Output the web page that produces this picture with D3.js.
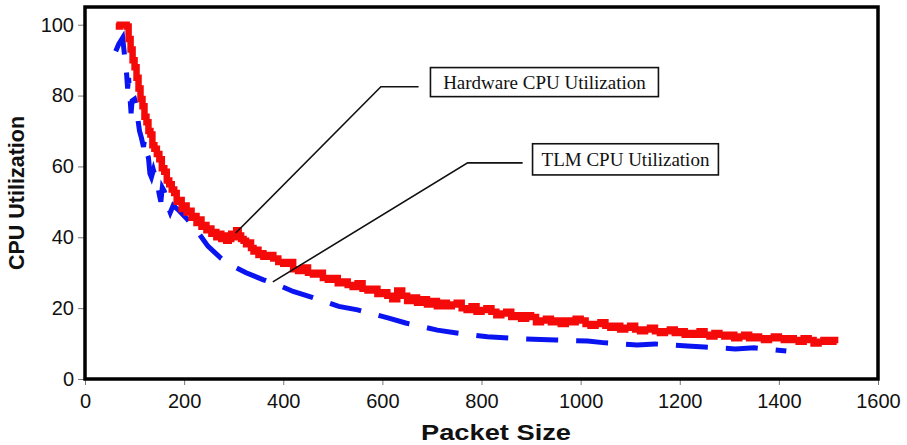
<!DOCTYPE html>
<html>
<head>
<meta charset="utf-8">
<script src="https://cdn.jsdelivr.net/npm/d3@7"></script>
<style>
    body { margin: 0; background: #fff; }
    svg { display: block; }
    .tick-label { font-family: "Liberation Sans", Arial, sans-serif; font-size: 20px; fill: #111; }
    .axis-title { font-family: "Liberation Sans", Arial, sans-serif; font-size: 21.5px; font-weight: bold; fill: #111; }
    .note { font-family: "Liberation Serif", "Times New Roman", serif; font-size: 19px; fill: #111; }
</style>
</head>
<body>
<div id="chart"></div>
<script>
var xTicks = [0, 200, 400, 600, 800, 1000, 1200, 1400, 1600];
var yTicks = [0, 20, 40, 60, 80, 100];

// hardware CPU utilization [packet size, %]
var hwCpu = [
    [62, 99.5], [70, 100], [78, 100], [84, 99.5], [88, 96], [92, 93], [96, 90], [100, 88],
    [104, 85], [108, 82], [112, 79], [116, 77], [120, 74], [124, 72.5], [128, 70], [132, 69],
    [136, 66], [140, 65], [145, 63.5], [150, 62], [155, 59.5], [160, 58.5], [165, 56], [170, 55],
    [175, 53.5], [180, 52.5], [185, 50], [190, 50.5], [195, 48], [200, 49], [205, 47], [210, 47.5],
    [215, 45.5], [220, 46], [225, 44], [230, 45], [235, 43], [240, 43.5], [245, 42], [250, 42.5],
    [255, 41], [260, 41.5], [265, 40], [270, 41], [275, 39.5], [280, 40.5], [285, 39], [290, 39.5],
    [295, 41], [300, 40], [305, 42], [310, 40.5], [315, 39.5], [320, 39], [325, 38], [330, 38.5],
    [335, 37], [340, 36], [345, 36.5], [350, 35], [355, 35.5], [360, 34.5], [370, 35], [380, 34],
    [390, 33], [400, 32.5], [410, 33], [420, 31], [430, 30.5], [440, 31.5], [450, 30], [460, 29.5],
    [470, 30], [480, 28.5], [490, 28], [500, 28.5], [510, 27], [520, 27.5], [530, 26.5], [540, 26],
    [550, 27], [560, 25.5], [570, 25], [580, 25.5], [590, 24], [600, 24.5], [610, 23.5], [620, 22.5],
    [630, 25], [640, 23.5], [650, 22], [660, 23], [670, 21.5], [680, 22.5], [690, 21], [700, 22],
    [710, 20.5], [720, 21.5], [730, 20.5], [740, 21], [750, 21.5], [760, 20], [770, 19.5], [780, 20.5],
    [790, 19], [800, 19.5], [810, 20], [820, 19], [830, 18], [840, 18.5], [850, 19], [860, 17.5],
    [870, 18], [880, 17], [890, 18], [900, 17.5], [910, 16], [920, 16.5], [930, 17], [940, 16],
    [950, 16.5], [960, 15.5], [970, 16.5], [980, 16], [990, 17], [1000, 16.5], [1010, 15.5], [1020, 15],
    [1030, 15.5], [1040, 16], [1050, 15], [1060, 14.5], [1070, 15], [1080, 14], [1090, 14.5], [1100, 15],
    [1110, 14], [1120, 13.5], [1130, 14], [1140, 14.5], [1150, 13.5], [1160, 13], [1170, 13.5], [1180, 14],
    [1190, 13], [1200, 13.5], [1210, 12.5], [1220, 13], [1230, 12.5], [1240, 13.5], [1250, 12.5], [1260, 12],
    [1270, 13], [1280, 12.5], [1290, 12], [1300, 12.5], [1310, 11.5], [1320, 12], [1330, 12.5], [1340, 11.5],
    [1350, 12], [1360, 11.5], [1370, 11], [1380, 11.5], [1390, 12], [1400, 11.5], [1410, 11], [1420, 11.5],
    [1430, 11], [1440, 10.5], [1450, 11.5], [1460, 11], [1470, 10], [1480, 10.5], [1490, 11], [1500, 10.5],
    [1510, 11], [1520, 11]
];

// TLM CPU utilization [packet size, %]
var tlmCpu = [
    [62, 92.5], [68, 94.5], [76, 96.3], [80, 91], [84, 86], [86, 82], [88, 85], [91, 79],
    [93, 75], [95, 78.5], [100, 79], [104, 77], [107, 73], [110, 70], [114, 68], [118, 65.5],
    [120, 67.5], [124, 64], [128, 62.5], [131, 58], [134, 57], [138, 59], [142, 57], [146, 55],
    [150, 52], [153, 50], [156, 54], [160, 53], [164, 51], [168, 48.5], [172, 47], [178, 49],
    [190, 47.5], [207, 45], [230, 41], [248, 37.5], [275, 34], [300, 31.8], [325, 30], [360, 28],
    [390, 26.5], [420, 24.7], [460, 23], [512, 20.5], [550, 19.5], [613, 17.2], [647, 15.8], [711, 13.8],
    [750, 13], [812, 11.9], [870, 11.4], [950, 11], [1014, 10.7], [1050, 10.2], [1114, 9.6], [1150, 9.9],
    [1215, 9.3], [1250, 9], [1312, 8.5], [1350, 8.8], [1415, 7.9]
];

// callouts: leader points and box corners in data units
var hwLeader = [[304, 41.2], [597, 82.5], [673, 82.5]];
var hwBox = [[697, 87.9], [1157, 79.7]];
var tlmLeader = [[379, 27.4], [772, 61], [883, 61]];
var tlmBox = [[903, 66.4], [1278, 57.6]];

var width = 907, height = 445;
var margin = {top: 7, right: 29, bottom: 66, left: 85};

var x = d3.scaleLinear().domain([0, 1600]).range([margin.left, width - margin.right]);
var y = d3.scaleLinear().domain([0, 105]).range([height - margin.bottom, margin.top]);

var svg = d3.select('#chart').append('svg')
    .attr('width', width)
    .attr('height', height);

var xAxis = svg.append('g')
    .attr('transform', 'translate(0,' + y(0) + ')')
    .call(d3.axisBottom(x).tickValues(xTicks).tickFormat(d3.format('d')).tickSize(6).tickPadding(9));
xAxis.select('.domain').remove();
xAxis.selectAll('line').attr('stroke', '#777');
xAxis.selectAll('text').attr('class', 'tick-label').attr('font-size', null).attr('font-family', null);

var yAxis = svg.append('g')
    .attr('transform', 'translate(' + x(0) + ',0)')
    .call(d3.axisLeft(y).tickValues(yTicks).tickFormat(d3.format('d')).tickSize(7).tickPadding(4));
yAxis.select('.domain').remove();
yAxis.selectAll('line').attr('stroke', '#777');
yAxis.selectAll('text').attr('class', 'tick-label').attr('font-size', null).attr('font-family', null);

svg.append('rect')
    .attr('x', x(0))
    .attr('y', y(105))
    .attr('width', x(1600) - x(0))
    .attr('height', y(0) - y(105))
    .attr('fill', 'none')
    .attr('stroke', '#000')
    .attr('stroke-width', 3.5);

svg.append('path')
    .datum(tlmCpu)
    .attr('fill', 'none')
    .attr('stroke', '#0a14f0')
    .attr('stroke-width', 5)
    .attr('stroke-dasharray', '32,18')
    .attr('d', d3.line().x(function(d){return x(d[0])}).y(function(d){return y(d[1])}));

svg.append('path')
    .datum(hwCpu)
    .attr('fill', 'none')
    .attr('stroke', '#f50a0a')
    .attr('stroke-width', 6.5)
    .attr('d', d3.line().curve(d3.curveStepAfter)
        .x(function(d){return x(d[0])}).y(function(d){return y(d[1])}));

function callout(leader, box, label){
    svg.append('path')
        .datum(leader)
        .attr('fill', 'none')
        .attr('stroke', '#111')
        .attr('stroke-width', 1.6)
        .attr('d', d3.line().x(function(d){return x(d[0])}).y(function(d){return y(d[1])}));
    svg.append('rect')
        .attr('x', x(box[0][0]))
        .attr('y', y(box[0][1]))
        .attr('width', x(box[1][0]) - x(box[0][0]))
        .attr('height', y(box[1][1]) - y(box[0][1]))
        .attr('fill', '#fff')
        .attr('stroke', '#111')
        .attr('stroke-width', 1.6);
    svg.append('text')
        .attr('class', 'note')
        .attr('x', (x(box[0][0]) + x(box[1][0])) / 2)
        .attr('y', (y(box[0][1]) + y(box[1][1])) / 2)
        .attr('dy', '0.35em')
        .attr('text-anchor', 'middle')
        .text(label);
}

callout(hwLeader, hwBox, 'Hardware CPU Utilization');
callout(tlmLeader, tlmBox, 'TLM CPU Utilization');

svg.append('text')
    .attr('class', 'axis-title')
    .attr('x', 496)
    .attr('y', 440)
    .attr('text-anchor', 'middle')
    .attr('textLength', 150)
    .attr('lengthAdjust', 'spacingAndGlyphs')
    .text('Packet Size');

svg.append('text')
    .attr('class', 'axis-title')
    .attr('transform', 'translate(24,' + ((y(0) + y(105)) / 2) + ') rotate(-90)')
    .attr('text-anchor', 'middle')
    .text('CPU Utilization');
</script>
</body>
</html>
